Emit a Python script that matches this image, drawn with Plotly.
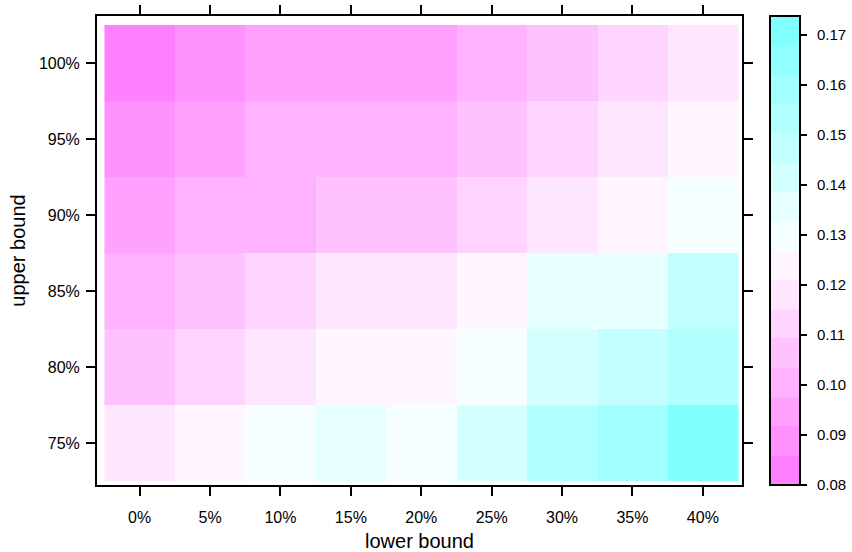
import numpy as np
import plotly.graph_objects as go
import colorsys

# ---- data ----
lower_bound = [0, 5, 10, 15, 20, 25, 30, 35, 40]          # x (percent)
upper_bound = [75, 80, 85, 90, 95, 100]                    # y (percent)
x_labels = ["0%", "5%", "10%", "15%", "20%", "25%", "30%", "35%", "40%"]
y_labels = ["75%", "80%", "85%", "90%", "95%", "100%"]

row_75 = [0.1176, 0.1240, 0.1297, 0.1358, 0.1300, 0.1418, 0.1535, 0.1590, 0.1737]
row_80 = [0.1066, 0.1120, 0.1184, 0.1238, 0.1245, 0.1300, 0.1412, 0.1476, 0.1530]
row_85 = [0.1004, 0.1060, 0.1125, 0.1185, 0.1178, 0.1242, 0.1360, 0.1355, 0.1470]
row_90 = [0.0952, 0.1005, 0.1000, 0.1062, 0.1066, 0.1118, 0.1182, 0.1236, 0.1296]
row_95 = [0.0890, 0.0948, 0.1003, 0.1008, 0.1002, 0.1060, 0.1125, 0.1178, 0.1240]
row_100 = [0.0799, 0.0885, 0.0950, 0.0945, 0.0942, 0.1010, 0.1065, 0.1120, 0.1180]

cbar_ticks = [0.08, 0.09, 0.10, 0.11, 0.12, 0.13, 0.14, 0.15, 0.16, 0.17]
cbar_ticktext = ["0.08", "0.09", "0.10", "0.11", "0.12", "0.13", "0.14", "0.15", "0.16", "0.17"]

z = [row_75, row_80, row_85, row_90, row_95, row_100]

# ---- lattice-like region colours: rev(cm.colors(100)), 16 bins ----
def cm_colors(n):
    even = n % 2 == 0
    k = n // 2
    l1 = k + 1 - even
    l2 = n - k + even
    cols = []
    s1 = np.linspace(0.5, 0.5 / k if even else 0, l1)
    for s in s1:
        cols.append(colorsys.hsv_to_rgb(6 / 12, s, 1))
    s2 = np.linspace(0, 0.5, l2)[1:]
    for s in s2:
        cols.append(colorsys.hsv_to_rgb(10 / 12, s, 1))
    return cols

regions = cm_colors(100)[::-1]
ncut = 16
idx = np.round(np.linspace(1, 100, ncut)).astype(int) - 1
bin_cols = ["rgb(%d,%d,%d)" % tuple(int(round(c * 255)) for c in regions[i]) for i in idx]

colorscale = []
for k, c in enumerate(bin_cols):
    colorscale.append([k / ncut, c])
    colorscale.append([(k + 1) / ncut, c])

flat = np.array(z).ravel()
zmin, zmax = float(flat.min()), float(flat.max())

FONT = "Liberation Sans"
PAD = "\u2002"

fig = go.Figure(go.Heatmap(
    x=lower_bound, y=upper_bound, z=z,
    colorscale=colorscale, zmin=zmin, zmax=zmax,
    xgap=0, ygap=0,
    colorbar=dict(
        x=(770 - 96.5) / 645.5, xanchor="left", xpad=0,
        y=0, yanchor="bottom", ypad=0, len=1, lenmode="fraction",
        thickness=30, outlinewidth=2, outlinecolor="black",
        tickvals=cbar_ticks, ticktext=[PAD + t for t in cbar_ticktext],
        ticks="outside", ticklen=6, tickwidth=2, tickcolor="black",
        tickfont=dict(family=FONT, size=15, color="black"),
    ),
))

axis_common = dict(
    showgrid=False, zeroline=False, automargin=False,
    showline=True, linewidth=2, linecolor="black", mirror="ticks",
    ticks="outside", ticklen=9, tickwidth=2, tickcolor="black",
    tickfont=dict(family=FONT, size=16, color="black"),
)

fig.update_xaxes(
    range=[-3.03, 42.78], tickvals=lower_bound, ticktext=x_labels,
    ticklabelstandoff=8,
    title=dict(text="lower bound", font=dict(family=FONT, size=20, color="black"), standoff=10),
    **axis_common,
)
fig.update_yaxes(
    range=[72.24, 103.09], tickvals=upper_bound, ticktext=y_labels,
    ticklabelstandoff=3,
    title=dict(text="upper bound", font=dict(family=FONT, size=20, color="black"), standoff=8),
    **axis_common,
)

fig.update_layout(
    width=852, height=552,
    margin=dict(l=96.5, r=110, t=16, b=67, pad=0, autoexpand=False),
    paper_bgcolor="white", plot_bgcolor="white",
    font=dict(family=FONT, color="black"),
)

fig.write_html("out.html")
